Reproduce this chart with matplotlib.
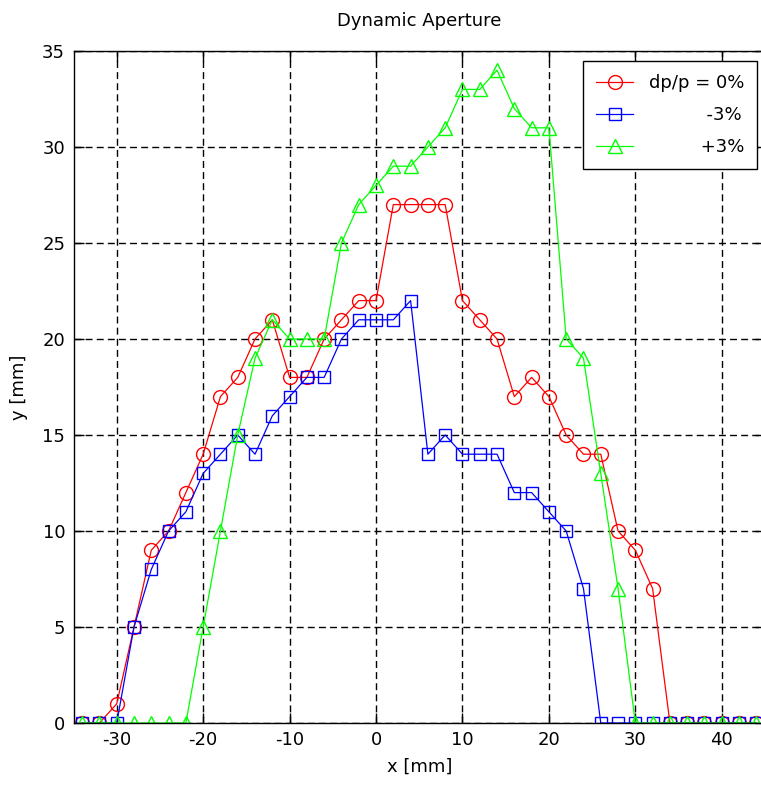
import matplotlib
matplotlib.use("Agg")
import matplotlib.pyplot as plt
import numpy as np

x = list(range(-34, 46, 2))

dp0 = [0, 0, 1, 5, 9, 10, 12, 14, 17, 18, 20, 21, 18, 18, 20, 21, 22, 22,
       27, 27, 27, 27, 22, 21, 20, 17, 18, 17, 15, 14, 14, 10, 9, 7,
       0, 0, 0, 0, 0, 0]
dpm3 = [0, 0, 0, 5, 8, 10, 11, 13, 14, 15, 14, 16, 17, 18, 18, 20, 21, 21,
        21, 22, 14, 15, 14, 14, 14, 12, 12, 11, 10, 7, 0, 0,
        0, 0, 0, 0, 0, 0, 0, 0]
dpp3 = [0, 0, 0, 0, 0, 0, 0, 5, 10, 15, 19, 21, 20, 20, 20, 25, 27, 28,
        29, 29, 30, 31, 33, 33, 34, 32, 31, 31, 20, 19, 13, 7, 0,
        0, 0, 0, 0, 0, 0, 0]

labels = ['dp/p = 0%', '-3%', '+3%']
xticks = [-30, -20, -10, 0, 10, 20, 30, 40]
yticks = [0, 5, 10, 15, 20, 25, 30, 35]

plt.rcParams['font.family'] = ['DejaVu Sans']
plt.rcParams['font.size'] = 13
plt.rcParams['axes.unicode_minus'] = False

W, H = 761, 794
fig = plt.figure(figsize=(W / 100, H / 100), dpi=100)
ax_l, ax_r, ax_t, ax_b = 73.5, 765, 51, 723
ax = fig.add_axes([ax_l / W, (H - ax_b) / H, (ax_r - ax_l) / W, (ax_b - ax_t) / H])

common = dict(linewidth=0.9, markerfacecolor='none', markeredgewidth=1.0)
ax.plot(x, dp0, color='#ff0000', marker='o', markersize=10,
        markeredgecolor='#ff0000', label=labels[0], **common)
ax.plot(x, dpm3, color='#0000ff', marker='s', markersize=9,
        markeredgecolor='#0000ff', label=labels[1], **common)
ax.plot(x, dpp3, color='#00ff00', marker='^', markersize=10,
        markeredgecolor='#00ff00', label=labels[2], **common)

ax.set_xlim(-35, 45)
ax.set_ylim(0, 35)
ax.set_xticks(xticks)
ax.set_yticks(yticks)
ax.tick_params(direction='in', top=True, right=True, length=7, width=1,
               labelsize=13, pad=6)
ax.grid(True, color='black', linestyle=(0, (5, 3)), linewidth=1.0)
for s in ax.spines.values():
    s.set_linewidth(1.0)
    s.set_color('black')

ax.set_title('Dynamic Aperture', fontsize=13, pad=18)
ax.set_xlabel('x [mm]', fontsize=13, labelpad=6)
ax.set_ylabel('y [mm]', fontsize=13, labelpad=10)

# right-align legend labels by padding with spaces
renderer = fig.canvas.get_renderer()
def text_w(s):
    t = fig.text(0, 0, s, fontsize=13)
    w = t.get_window_extent(renderer).width
    t.remove()
    return w
sp = text_w('a a') - text_w('aa')
maxw = max(text_w(l) for l in labels)
padded = [' ' * int(round((maxw - text_w(l)) / sp)) + l for l in labels]

handles = ax.get_lines()
leg = ax.legend(handles, padded, loc='upper right',
                bbox_to_anchor=((757 - ax_l) / (ax_r - ax_l), (ax_b - 61) / (ax_b - ax_t)),
                borderaxespad=0, fancybox=False, framealpha=1, edgecolor='black',
                handlelength=2.05, labelspacing=0.78, borderpad=0.72,
                handletextpad=0.85, fontsize=13)
leg.get_frame().set_linewidth(1.0)

fig.savefig('out.png', dpi=100)
